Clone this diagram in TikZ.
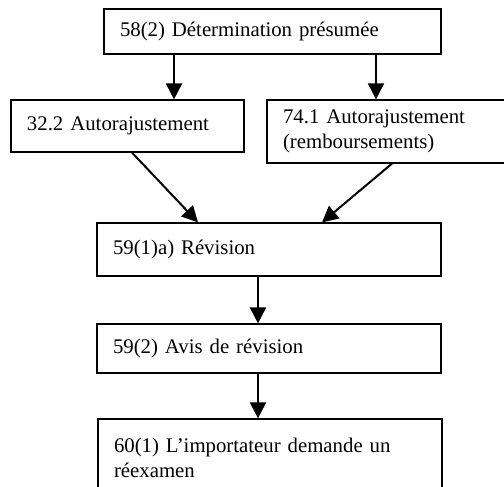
\documentclass[tikz,border=0pt]{standalone}
\usepackage{fontspec}
\setmainfont{Liberation Serif}
\usetikzlibrary{arrows.meta, positioning}

\begin{document}
\begin{tikzpicture}[
  x=1pt, y=-1pt,
  box/.style={draw, line width=1.2pt, inner xsep=16pt, inner ysep=0pt, align=left,
    font=\fontsize{20.8}{25}\selectfont},
  arr/.style={-{Triangle[length=16pt, width=16pt]}, line width=2pt}
]
\useasboundingbox (0,0) rectangle (504,487);
\node[box, text width=305pt, minimum height=45pt] (det) at (272.5,31.5) {58(2) Détermination présumée};
\node[box, text width=201pt, minimum height=52pt] (auto) at (127.5,126) {32.2 Autorajustement};
\node[box, text width=221pt, minimum height=63pt] (remb) at (393.5,131.5) {74.1 Autorajustement\\(remboursements)};
\node[box, text width=312pt, minimum height=53pt] (rev) at (269,249.5) {59(1)a) Révision};
\node[box, text width=312pt, minimum height=49pt] (avis) at (269,348.5) {59(2) Avis de révision};
\node[box, text width=312pt, minimum height=78pt] (reex) at (270,458) {60(1) L’importateur demande un\\réexamen};
% columns of the arrows
\coordinate (c1) at (174,0);
\coordinate (c2) at (376,0);
\coordinate (c3) at (132,0);
\coordinate (c4) at (198,0);
\coordinate (c5) at (392,0);
\coordinate (c6) at (322,0);
\coordinate (c7) at (258,0);
\draw[arr] (det.south -| c1) -- (auto.north -| c1);
\draw[arr] (det.south -| c2) -- (remb.north -| c2);
\draw[arr] (auto.south -| c3) -- (rev.north -| c4);
\draw[arr] (remb.south -| c5) -- (rev.north -| c6);
\draw[arr] (rev.south -| c7) -- (avis.north -| c7);
\draw[arr] (avis.south -| c7) -- (reex.north -| c7);
\end{tikzpicture}
\end{document}
